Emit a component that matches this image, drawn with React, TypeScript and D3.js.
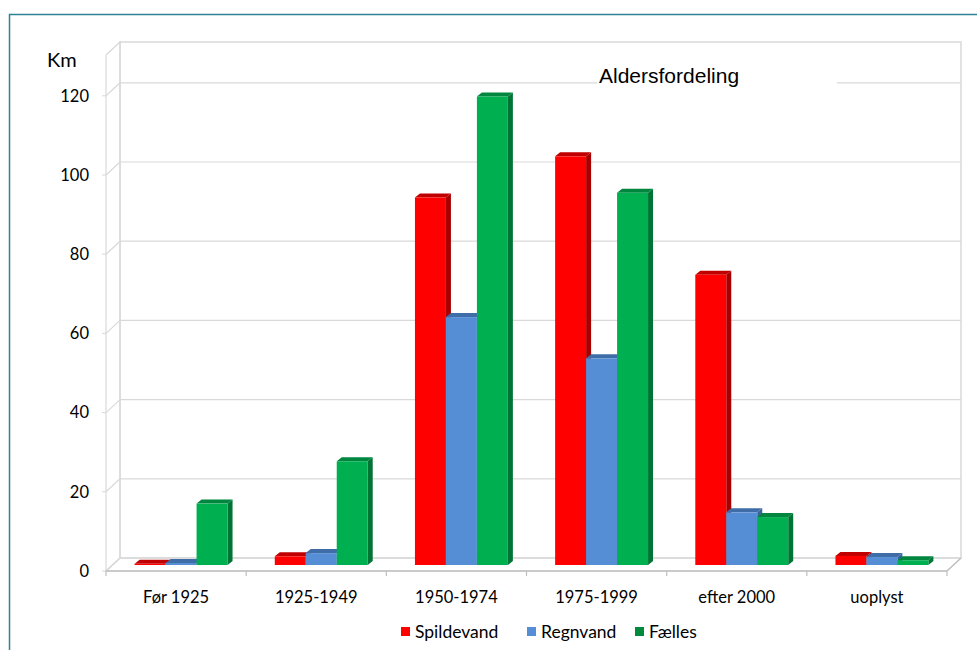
import React from "react";
import * as d3 from "d3";

const categories = ["Før 1925", "1925-1949", "1950-1974", "1975-1999", "efter 2000", "uoplyst"];
const seriesNames = ["Spildevand", "Regnvand", "Fælles"];
const spildevand = [0.3, 2.2, 92.8, 103.2, 73.3, 2.3];
const regnvand = [0.5, 3, 62.6, 52.2, 13.3, 2];
const faelles = [15.5, 26.2, 118.3, 94, 12.1, 1.2];
const yTicks = [0, 20, 40, 60, 80, 100, 120];

const seriesValues = [spildevand, regnvand, faelles];
const front = ["#FF0000", "#558ED5", "#00B050"];
const topC = ["#C00000", "#3F6DA8", "#00863E"];
const sideC = ["#A80000", "#3A639A", "#007434"];

const W = 977, H = 650;
// 3D geometry
const floorLeft = 106, floorRight = 947, frontY = 571;
const DX = 14, DY = 13; // wall depth offset
const barOffX = 5, barOffY = 6; // front face of bars inside the depth
const barDX = 5, barDY = 4; // bar depth
const yMax = 130.3;

export default function App() {
  const yFront = d3.scaleLinear().domain([0, yMax]).range([frontY, frontY - 516]);
  const yBack = (v: number) => yFront(v) - DY;
  const x0 = d3.scaleBand<string>().domain(categories).range([floorLeft, floorRight]).padding(0);
  const bw = x0.bandwidth();
  const groupW = bw * 0.663;
  const x1 = d3.scaleBand<string>().domain(seriesNames).range([0, groupW]).padding(0);
  const barW = x1.bandwidth();
  const grid = "#D9D9D9";
  const font = "Lato, 'Noto Sans', sans-serif";

  const backL = floorLeft + DX, backR = floorRight + DX;
  const wallTop = yBack(yMax);

  const bars: React.ReactNode[] = [];
  categories.forEach((c, ci) => {
    const gx = (x0(c) as number) + (bw - groupW) / 2 + barOffX;
    seriesNames.forEach((s, si) => {
      const v = seriesValues[si][ci];
      const x = gx + (x1(s) as number);
      const yb = yFront(0) - barOffY;
      const yt = yFront(v) - barOffY;
      const w = barW;
      bars.push(
        <g key={c + s}>
          <polygon
            points={`${x + w},${yt} ${x + w + barDX},${yt - barDY} ${x + w + barDX},${yb - barDY} ${x + w},${yb}`}
            fill={sideC[si]}
          />
          <polygon
            points={`${x},${yt} ${x + barDX},${yt - barDY} ${x + w + barDX},${yt - barDY} ${x + w},${yt}`}
            fill={topC[si]}
          />
          <rect x={x} y={yt} width={w} height={Math.max(0, yb - yt)} fill={front[si]} />
        </g>
      );
    });
  });

  const legendX = [401, 527, 635];

  return (
    <svg width={W} height={H} style={{ position: "absolute", left: 0, top: 0, background: "#fff" }}>
      <rect x={0} y={0} width={W} height={H} fill="#fff" />
      <rect x={9.5} y={14.5} width={1000} height={700} fill="none" stroke="#2F8397" strokeWidth={1.5} />

      {/* back wall */}
      <rect x={backL} y={wallTop} width={backR - backL} height={yBack(0) - wallTop} fill="none" stroke={grid} strokeWidth={1.5} />
      {/* side wall */}
      <polygon
        points={`${floorLeft},${yFront(yMax)} ${backL},${wallTop} ${backL},${yBack(0)} ${floorLeft},${yFront(0)}`}
        fill="none"
        stroke={grid}
        strokeWidth={1.2}
      />
      {/* floor */}
      <polygon
        points={`${floorLeft},${yFront(0)} ${backL},${yBack(0)} ${backR},${yBack(0)} ${floorRight},${yFront(0)}`}
        fill="none"
        stroke={grid}
        strokeWidth={1.2}
      />
      {/* gridlines */}
      {yTicks.map((t) => (
        <g key={t}>
          <line x1={backL} x2={backR} y1={yBack(t)} y2={yBack(t)} stroke={grid} strokeWidth={1.2} />
          <line x1={floorLeft} x2={backL} y1={yFront(t)} y2={yBack(t)} stroke={grid} strokeWidth={1.2} />
          <line x1={floorLeft - 4} x2={floorLeft} y1={yFront(t)} y2={yFront(t)} stroke={grid} strokeWidth={1} />
          <text x={89} y={yFront(t)} dy="0.35em" textAnchor="end" fontFamily={font} fontSize={16.5} fill="#000">
            {t}
          </text>
        </g>
      ))}

      {/* title box */}
      <rect x={597} y={60} width={240} height={38} fill="#fff" />
      <text x={599} y={83} fontFamily="'Liberation Sans', Arial, sans-serif" fontSize={21} fill="#000">
        Aldersfordeling
      </text>

      {bars}

      {/* front floor edge / x axis */}
      <line x1={floorLeft} x2={floorRight} y1={yFront(0)} y2={yFront(0)} stroke="#BFBFBF" strokeWidth={1.5} />
      <line x1={floorRight} x2={backR} y1={yFront(0)} y2={yBack(0)} stroke="#BFBFBF" strokeWidth={1.2} />
      {categories.map((c) => (
        <line key={"t" + c} x1={x0(c) as number} x2={x0(c) as number} y1={yFront(0)} y2={yFront(0) + 5} stroke="#BFBFBF" strokeWidth={1.2} />
      ))}
      <line x1={floorRight} x2={floorRight} y1={yFront(0)} y2={yFront(0) + 5} stroke="#BFBFBF" strokeWidth={1.2} />
      {categories.map((c) => (
        <text key={"l" + c} x={(x0(c) as number) + bw / 2} y={603} textAnchor="middle" fontFamily={font} fontSize={16.5} fill="#000">
          {c}
        </text>
      ))}

      <text x={47} y={67} fontFamily={font} fontSize={20} fill="#000">
        Km
      </text>

      {/* legend */}
      {seriesNames.map((s, i) => (
        <g key={"lg" + s}>
          <rect x={legendX[i]} y={627} width={9} height={9} fill={i === 2 ? "#008A3E" : front[i]} />
          <text x={legendX[i] + 14} y={638} fontFamily={font} fontSize={17.5} fill="#000">
            {s}
          </text>
        </g>
      ))}
    </svg>
  );
}
